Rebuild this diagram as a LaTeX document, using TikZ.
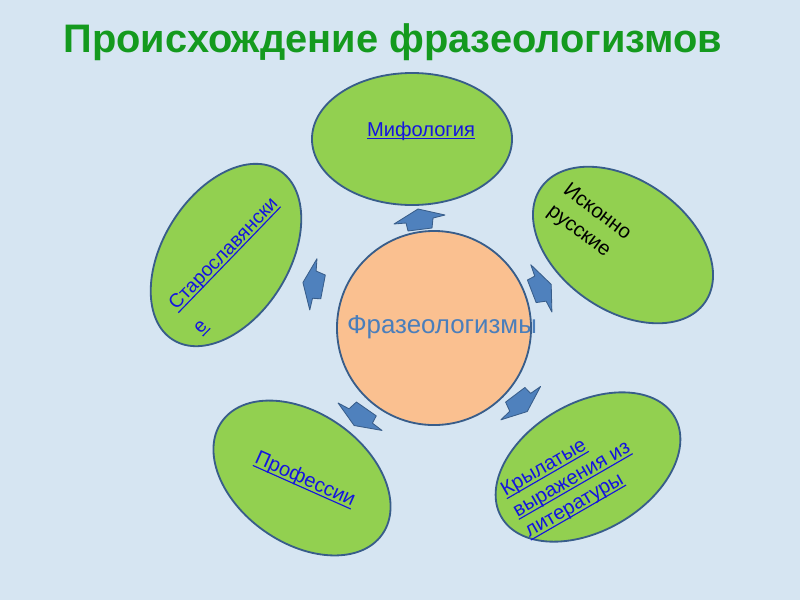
\documentclass[tikz,border=0pt]{standalone}
\usepackage{fontspec}
\setmainfont{Liberation Sans}
\usetikzlibrary{shapes.geometric}
\newsavebox{\ulinbox}
\newcommand{\ulin}[1]{\sbox{\ulinbox}{#1}\rlap{\rule[-2.3pt]{\wd\ulinbox}{0.8pt}}\usebox{\ulinbox}}
\definecolor{bg}{HTML}{D6E5F2}
\definecolor{leaf}{HTML}{92D050}
\definecolor{rim}{HTML}{385D8A}
\definecolor{peach}{HTML}{FAC090}
\definecolor{arrowblue}{HTML}{4F81BD}
\definecolor{titlegreen}{HTML}{149A1E}
\definecolor{linkblue}{HTML}{1414E0}
\definecolor{coreblue}{HTML}{4A7EBB}
\begin{document}
\begin{tikzpicture}[x=0.025cm,y=-0.025cm,
  leafnode/.style={ellipse, draw=rim, line width=1.3pt, fill=leaf, inner sep=0pt},
  linktext/.style={text=linkblue, font=\fontsize{14.3}{17}\selectfont, align=left, inner sep=0pt},
  blacktext/.style={text=black, font=\fontsize{14.5}{18.5}\selectfont, align=left, inner sep=0pt},
  blockarrow/.style={fill=arrowblue, draw=rim, line width=0.6pt, line join=round},
  barrow/.pic={\draw[blockarrow] (-2,-11) -- (25,-5) -- (13,-2) -- (12,8) -- (-12,11) -- (-14,3) -- (-26,4) -- cycle;}]
\fill[bg] (0,0) rectangle (800,600);
\useasboundingbox (0,0) rectangle (800,600);
% title
\node[font=\fontsize{28.3}{34}\selectfont\bfseries, text=titlegreen] (title) at (393,42) {Происхождение фразеологизмов};
% outer ellipses
\node[leafnode, minimum width=5cm, minimum height=3.3cm] (myth) at (412,139) {};
\node[leafnode, minimum width=5cm, minimum height=3.25cm, rotate=-35] (iskon) at (623,245) {};
\node[leafnode, minimum width=5cm, minimum height=3.15cm, rotate=58] (staro) at (226,255) {};
\node[leafnode, minimum width=4.9cm, minimum height=3.25cm, rotate=-35] (prof) at (302,478) {};
\node[leafnode, minimum width=5cm, minimum height=3.2cm, rotate=30] (kryl) at (588,467) {};
% central circle
\node[circle, draw=rim, line width=1.3pt, fill=peach, minimum size=4.85cm, inner sep=0pt] (core) at (434,328) {};
% arrows
\pic at (420,220) {barrow};
\pic[rotate=72] at (314,284) {barrow};
\pic[rotate=-76] at (541,289) {barrow};
\pic[rotate=-150] at (520,403) {barrow};
\pic[rotate=138] at (360,416) {barrow};
% texts
\node[text=coreblue, font=\fontsize{18.4}{22}\selectfont, inner sep=0pt] (coretext) at (442,327) {Фразеологизмы};
\node[linktext] (mythtext) at (421,131) {\ulin{Мифология}};
\node[blacktext, rotate=-37] (iskontext) at (589,223) {Исконно\\русские};
\node[linktext, rotate=46, font=\fontsize{13.8}{24}\selectfont] (starotext) at (236,266) {\ulin{Старославянски}\\\ulin{е}};
\node[linktext, rotate=-24] (proftext) at (305,480) {\ulin{Профессии}};
\node[linktext, rotate=30] (kryltext) at (572,480) {\ulin{Крылатые}\\\ulin{выражения из}\\\ulin{литературы}};
\end{tikzpicture}
\end{document}
